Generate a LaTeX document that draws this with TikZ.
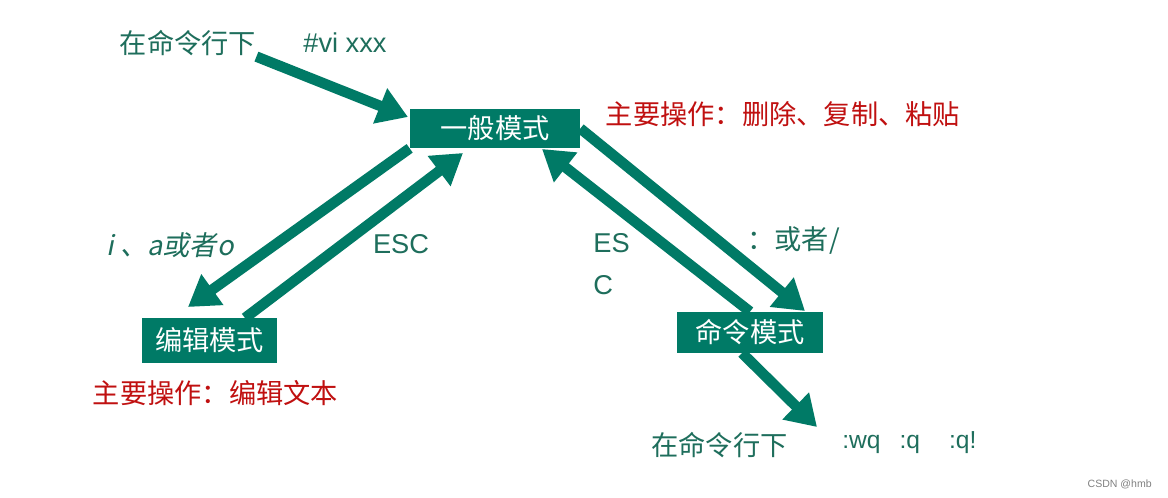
\documentclass[tikz,border=0pt]{standalone}
\usepackage{fontspec}
\setmainfont{Liberation Sans}
\newfontfamily\cjk{Noto Sans CJK SC}
\newfontfamily\cjkit[FakeSlant=0.2]{Noto Sans CJK SC}
\usetikzlibrary{arrows.meta}
\definecolor{vigreen}{RGB}{0,122,102}
\definecolor{vitext}{RGB}{30,110,92}
\definecolor{vired}{RGB}{192,16,16}

\begin{document}
\begin{tikzpicture}[x=0.02cm,y=-0.02cm,>={Triangle[length=0.6cm,width=0.72cm]}, mode node/.style={rectangle,fill=vigreen,text=white,font=\cjk\fontsize{15.5}{18}\selectfont, inner sep=0pt}, note node/.style={text=vitext,font=\cjk\fontsize{15.5}{18}\selectfont, inner sep=0pt}, latin node/.style={text=vitext,font=\fontsize{15.5}{24}\selectfont, inner sep=0pt}, op node/.style={text=vired,font=\cjk\fontsize{15.5}{18}\selectfont, inner sep=0pt}, big arrow/.style={->,draw=vigreen,line width=0.21cm}]

  \fill[white] (0,0) rectangle (1168,497);
  \useasboundingbox (0,0) rectangle (1168,497);

  % the three modes
  \node[mode node, minimum width=3.4cm, minimum height=0.78cm] (normal) at (495,128.5) {一般模式};
  \node[mode node, minimum width=2.7cm, minimum height=0.9cm] (edit) at (209.5,340.5) {编辑模式};
  \node[mode node, minimum width=2.92cm, minimum height=0.82cm] (cmd) at (750,332.5) {命令模式};

  % labels
  \node[note node] (shell) at (188,43.5) {在命令行下};
  \node[latin node] (vicmd) at (345,43) {\#vi xxx};
  \node[op node] (normalop) at (783,114.5) {主要操作：删除、复制、粘贴};
  \node[op node] (editop) at (215.5,393) {主要操作：编辑文本};
  \node[note node, font=\cjkit\fontsize{15.5}{18}\selectfont] (insert) at (170,245) {i 、a或者o};
  \node[latin node] (esca) at (401,244) {ESC};
  \node[latin node, anchor=west, align=left] (escb) at (593,264) {ES\\C};
  \node[note node, anchor=west] (colon) at (747,240) {：或者/};
  \node[note node] (shellb) at (719.5,445) {在命令行下};
  \node[latin node, anchor=west, font=\fontsize{14}{18}\selectfont] (quit) at (842,443) {:wq\hspace{0.38cm}:q\hspace{0.58cm}:q!};
  \node[anchor=east, text=gray, font=\fontsize{6}{7}\selectfont, inner sep=0pt] (mark) at (1152,484) {CSDN @hmb};

  % arrow ends
  \coordinate (n1) at (408,117);
  \coordinate (n2) at (463,153);
  \coordinate (n3) at (542,149);
  \coordinate (e1) at (188,307);
  \coordinate (e2) at (245,318);
  \coordinate (c2) at (805,311);
  \coordinate (c3) at (742,353);
  \coordinate (q1) at (817,427);

  \draw[big arrow] (shell.south east) -- (n1);
  \draw[big arrow] (normal.south west) -- (e1);
  \draw[big arrow] (e2) -- (n2);
  \draw[big arrow] (cmd.north) -- (n3);
  \draw[big arrow] (normal.east) -- (c2);
  \draw[big arrow] (c3) -- (q1);
\end{tikzpicture}
\end{document}
